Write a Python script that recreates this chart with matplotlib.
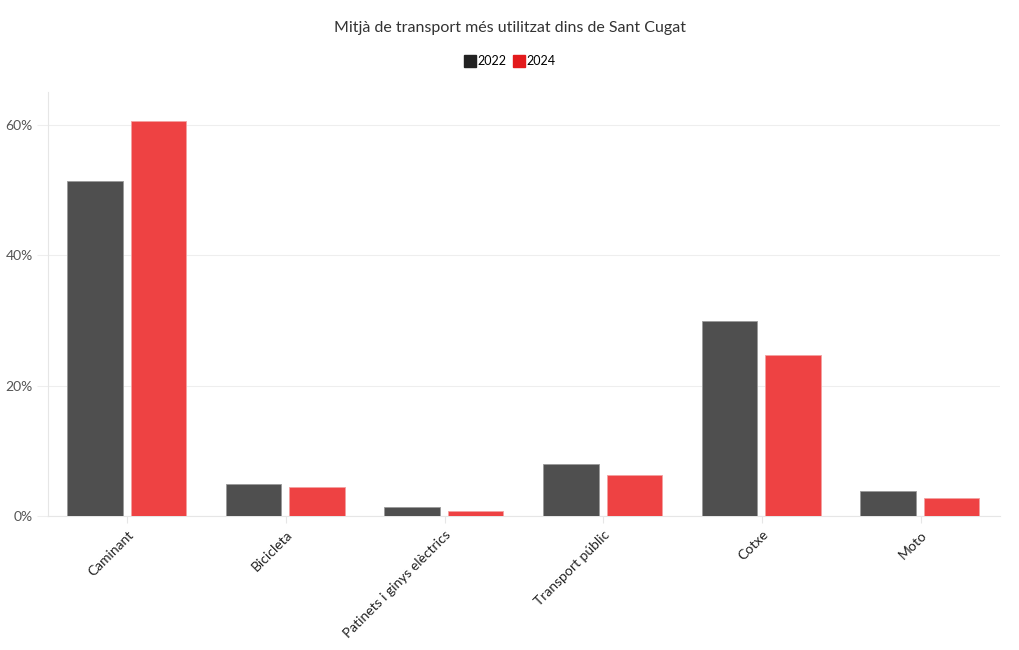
import numpy as np
import matplotlib.pyplot as plt
from matplotlib.lines import Line2D
from matplotlib.ticker import FuncFormatter

plt.rcParams['font.family'] = ['Lato', 'DejaVu Sans']

# dades llegides del gràfic (%)
categories = ['Caminant', 'Bicicleta', 'Patinets i ginys elèctrics',
              'Transport públic', 'Cotxe', 'Moto']
valors_2022 = [51.4, 4.9, 1.4, 8.0, 29.9, 3.9]
valors_2024 = [60.6, 4.4, 0.8, 6.3, 24.7, 2.8]

color_2022 = '#4f4f4f'
color_2024 = '#ee4243'

fig = plt.figure(figsize=(10.2, 6.5), dpi=100)
ax = fig.add_axes([48 / 1020, 1 - 516 / 650, 952 / 1020, 424 / 650])

x = np.arange(len(categories))
ample = 0.35
ax.bar(x - 0.205, valors_2022, ample, color=color_2022, edgecolor='#9a9a9a', linewidth=0.6, zorder=3)
ax.bar(x + 0.195, valors_2024, ample, color=color_2024, edgecolor='#f3a0a0', linewidth=0.6, zorder=3)

ax.set_xlim(-0.5, len(categories) - 0.5)
ax.set_ylim(0, 65)
ax.set_yticks([0, 20, 40, 60])
ax.yaxis.set_major_formatter(FuncFormatter(lambda v, p: '{:.0f}%'.format(v)))
ax.grid(axis='y', color='#eeeeee', linewidth=0.8, zorder=0)

ax.set_xticks(x)
ax.set_xticklabels(categories, rotation=45, ha='right', rotation_mode='anchor',
                   fontsize=10, color='#222222')
ax.tick_params(axis='x', length=5, color='#e6e6e6', pad=4)
ax.tick_params(axis='y', length=8, color='#eeeeee', labelsize=10, labelcolor='#555555', pad=3)

for s in ['top', 'right']:
    ax.spines[s].set_visible(False)
for s in ['left', 'bottom']:
    ax.spines[s].set_color('#e6e6e6')
    ax.spines[s].set_linewidth(0.8)

fig.text(0.5, 1 - 28 / 650, 'Mitjà de transport més utilitzat dins de Sant Cugat',
         ha='center', va='center', fontsize=11.5, color='#333333')

handles = [Line2D([0], [0], marker='s', linestyle='', markersize=9, color='#222222'),
           Line2D([0], [0], marker='s', linestyle='', markersize=9, color='#e31a1c')]
fig.legend(handles, ['2022', '2024'], loc='center', bbox_to_anchor=(0.5, 1 - 61 / 650),
           ncol=2, frameon=False, fontsize=9, handlelength=0.8, handletextpad=0.2,
           columnspacing=0.6)

fig.savefig('out.png', dpi=100)
